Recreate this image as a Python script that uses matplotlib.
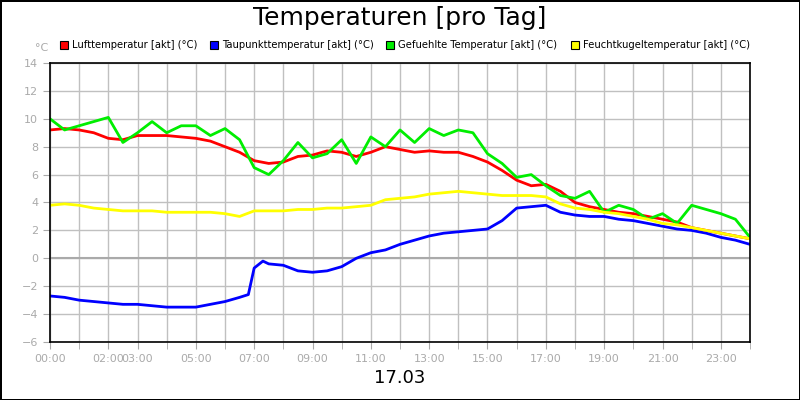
import matplotlib
matplotlib.use("Agg")
import matplotlib.pyplot as plt
import numpy as np

t_half = [i*0.5 for i in range(49)]
luft = [9.2,9.3,9.2,9.0,8.6,8.5,8.8,8.8,8.8,8.7,8.6,8.4,8.0,7.6,7.0,6.8,6.9,7.3,7.4,7.7,7.6,7.3,7.6,8.0,7.8,7.6,7.7,7.6,7.6,7.3,6.9,6.3,5.6,5.2,5.3,4.8,4.0,3.7,3.5,3.3,3.2,3.0,2.8,2.6,2.2,2.0,1.8,1.6,1.4]
gefuehlt = [10.0,9.2,9.5,9.8,10.1,8.3,9.0,9.8,9.0,9.5,9.5,8.8,9.3,8.5,6.5,6.0,7.0,8.3,7.2,7.5,8.5,6.8,8.7,8.0,9.2,8.3,9.3,8.8,9.2,9.0,7.5,6.8,5.8,6.0,5.2,4.5,4.3,4.8,3.3,3.8,3.5,2.8,3.2,2.5,3.8,3.5,3.2,2.8,1.5]
feucht = [3.8,3.9,3.8,3.6,3.5,3.4,3.4,3.4,3.3,3.3,3.3,3.3,3.2,3.0,3.4,3.4,3.4,3.5,3.5,3.6,3.6,3.7,3.8,4.2,4.3,4.4,4.6,4.7,4.8,4.7,4.6,4.5,4.5,4.5,4.4,3.9,3.6,3.5,3.3,3.2,3.0,2.8,2.5,2.4,2.2,2.0,1.8,1.6,1.4]
t_tau = [0,0.5,1,1.5,2,2.5,3,3.5,4,4.5,5,5.5,6,6.5,6.8,7,7.3,7.5,8,8.5,9,9.5,10,10.5,11,11.5,12,12.5,13,13.5,14,14.5,15,15.5,16,16.5,17,17.5,18,18.5,19,19.5,20,20.5,21,21.5,22,22.5,23,23.5,24]
tau = [-2.7,-2.8,-3.0,-3.1,-3.2,-3.3,-3.3,-3.4,-3.5,-3.5,-3.5,-3.3,-3.1,-2.8,-2.6,-0.7,-0.2,-0.4,-0.5,-0.9,-1.0,-0.9,-0.6,0.0,0.4,0.6,1.0,1.3,1.6,1.8,1.9,2.0,2.1,2.7,3.6,3.7,3.8,3.3,3.1,3.0,3.0,2.8,2.7,2.5,2.3,2.1,2.0,1.8,1.5,1.3,1.0]
tick_hours = [0,2,3,5,7,9,11,13,15,17,19,21,23]
tick_labels = ["00:00","02:00","03:00","05:00","07:00","09:00","11:00","13:00","15:00","17:00","19:00","21:00","23:00"]

fig = plt.figure(figsize=(8,4), dpi=100)
fig.patch.set_edgecolor("black"); fig.patch.set_linewidth(2)
ax = fig.add_axes([50/800, 58/400, 700/800, 279/400])
ax.set_xlim(0,24); ax.set_ylim(-6,14)
ax.set_xticks(tick_hours)
ax.set_xticklabels(tick_labels)
ax.set_xticks([h for h in range(25) if h not in tick_hours], minor=True)
ax.tick_params(axis="x", which="both", length=5, color="#aaaaaa", labelsize=8, labelcolor="#aaaaaa")
ax.set_yticks(range(-6,15,2))
ax.tick_params(axis="y", length=5, color="#aaaaaa", labelsize=8, labelcolor="#aaaaaa")
ax.grid(True, which="both", color="#c0c0c0", lw=1)
ax.axhline(0, color="#aaaaaa", lw=1.5)
for s in ax.spines.values(): s.set_linewidth(1.2)
ax.plot(t_half, luft, color="#ff0000", lw=2)
ax.plot(t_tau, tau, color="#0000ff", lw=2)
ax.plot(t_half, gefuehlt, color="#00ee00", lw=2)
ax.plot(t_half, feucht, color="#ffff00", lw=2)
fig.text(0.5, 0.955, "Temperaturen [pro Tag]", ha="center", va="center", fontsize=18)
fig.text(0.5, 0.055, "17.03", ha="center", va="center", fontsize=13)
fig.text(42/800, 1-48/400, "°C", ha="center", va="center", fontsize=8, color="#aaaaaa")
items = [("Lufttemperatur [akt] (°C)","#ff0000",60),("Taupunkttemperatur [akt] (°C)","#0000ff",210),
         ("Gefuehlte Temperatur [akt] (°C)","#00ee00",386),("Feuchtkugeltemperatur [akt] (°C)","#ffff00",571)]
for lab,c,x in items:
    fig.patches.append(plt.Rectangle((x/800, 1-49/400), 8/800, 8/400, transform=fig.transFigure, facecolor=c, edgecolor="black", lw=0.8))
    fig.text((x+12)/800, 1-45/400, lab, va="center", fontsize=7.2)
fig.savefig("out.png", dpi=100, edgecolor=fig.get_edgecolor())
